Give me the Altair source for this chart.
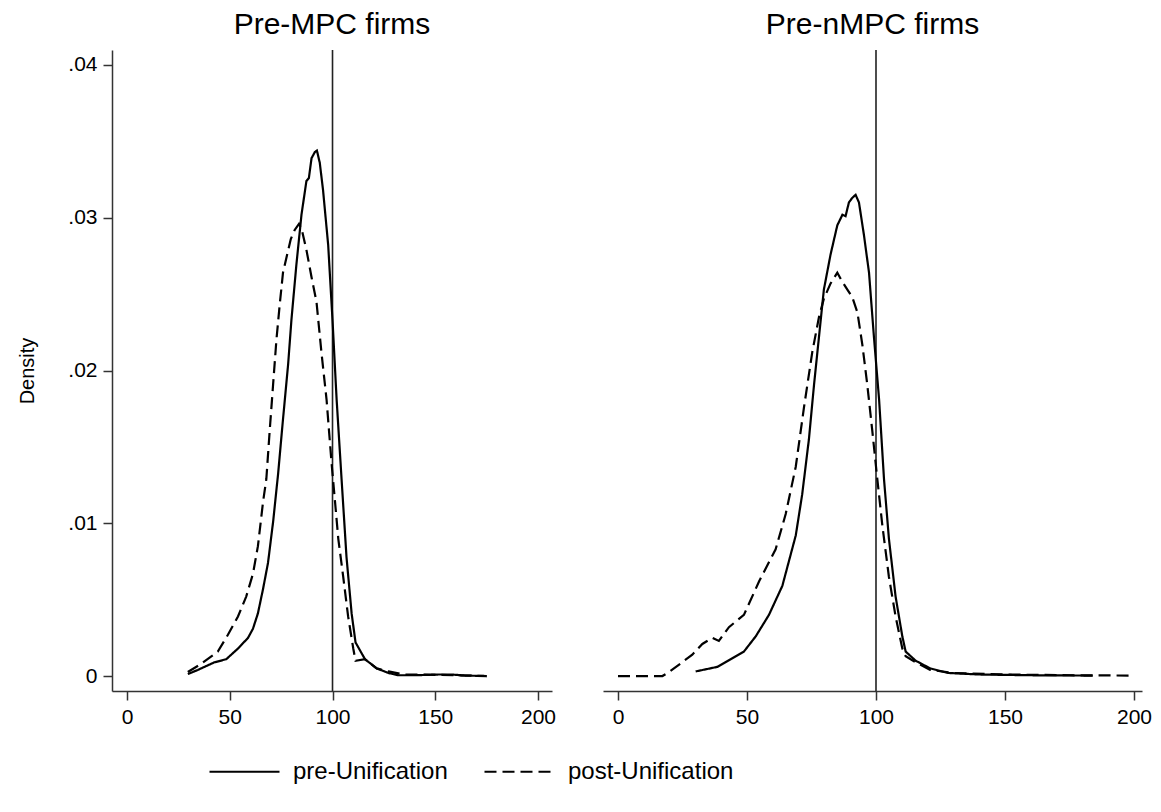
import altair as alt
import pandas as pd

FONT = "Liberation Sans"
SERIES = ["pre-Unification", "post-Unification"]
TITLES = ["Pre-MPC firms", "Pre-nMPC firms"]
X_TICKS = [0, 50, 100, 150, 200]
Y_TICKS = [0, 0.01, 0.02, 0.03, 0.04]
VLINE = [100]

# Left panel (Pre-MPC firms)
left_pre_x = [29.6, 34.5, 42.6, 48.3, 54, 58.9, 61.3, 63.7, 66.2, 68.6, 71.1, 73.5, 75.9, 78.4, 80,
              82.4, 84.9, 87.3, 88.5, 89.8, 91.4, 92.4, 93.8, 95.4, 97.9, 100, 102, 104.4, 106.8,
              109.3, 111.2, 115.8, 121.5, 127.2, 132, 140.2, 151.5, 158, 164.6, 175]
left_pre_y = [0.00013, 0.0004, 0.0009, 0.0011, 0.0018, 0.0025, 0.0031, 0.0041, 0.0057, 0.0074, 0.0101,
              0.0132, 0.0168, 0.0204, 0.0233, 0.0269, 0.0302, 0.0324, 0.0326, 0.0339, 0.0343, 0.0344,
              0.0336, 0.0318, 0.0282, 0.0233, 0.0181, 0.0129, 0.0078, 0.0041, 0.0022, 0.0011, 0.0005,
              0.0002, 0.00005, 0.00005, 0.0001, 0.0001, 0.00003, 0.0]
left_post_x = [29.6, 36.1, 44.2, 49.1, 54, 58, 61.3, 63.7, 66.2, 67.8, 69.4, 71.1, 72.7, 74.3, 75.9,
               77.6, 79.7, 81.6, 83.7, 84.9, 87.3, 89.8, 92.2, 94.6, 97.1, 99.5, 101.1, 102.8, 105.2,
               107.6, 110.1, 111.2, 115.8, 121.5, 127.2, 135, 150, 175]
left_post_y = [0.00026, 0.0008, 0.0016, 0.0027, 0.0039, 0.0052, 0.0067, 0.0085, 0.0114, 0.0129, 0.0160,
               0.0191, 0.0220, 0.0243, 0.0264, 0.0274, 0.0286, 0.0292, 0.0296, 0.0293, 0.0279, 0.0261,
               0.0245, 0.0212, 0.0181, 0.0140, 0.0116, 0.0090, 0.0065, 0.0039, 0.0018, 0.0010, 0.0011,
               0.0005, 0.0003, 0.0001, 0.00008, 0.0]

# Right panel (Pre-nMPC firms)
right_pre_x = [30.1, 38.5, 48.8, 53.4, 58.5, 63.7, 68.9, 71.4, 74, 76, 77.9, 79.8, 82.4, 85, 87, 88.2,
               89.5, 90.8, 92.1, 93.4, 95.3, 97.3, 99.2, 101.2, 103.1, 105, 107.6, 110.2, 111.5, 115.4,
               121, 128, 140, 160, 184]
right_pre_y = [0.0003, 0.0006, 0.0016, 0.0026, 0.0040, 0.0059, 0.0092, 0.0119, 0.0155, 0.0191, 0.0222,
               0.0253, 0.0276, 0.0295, 0.0302, 0.0301, 0.0310, 0.0313, 0.0315, 0.0310, 0.0289, 0.0264,
               0.0222, 0.0181, 0.0129, 0.0090, 0.0052, 0.0026, 0.0016, 0.0010, 0.0005, 0.0002, 0.0001,
               0.00005, 0.00003]
right_post_x = [0, 17.2, 19.8, 28.8, 32.7, 36.6, 39.1, 43, 48.8, 54.7, 61.1, 65, 68.9, 72.1, 75.3, 77.9,
                79.8, 82.4, 85, 87, 88.9, 90.8, 92.8, 94.7, 96.6, 98.6, 100.5, 102.5, 105, 107.6, 110.2,
                111.5, 115.4, 121, 130, 150, 175, 200]
right_post_y = [0.0, 0.0, 0.00026, 0.0014, 0.0021, 0.0025, 0.0023, 0.0032, 0.0040, 0.0062, 0.0083,
                0.0106, 0.0137, 0.0176, 0.0212, 0.0235, 0.0247, 0.0257, 0.0264, 0.0258, 0.0253, 0.0248,
                0.0238, 0.0217, 0.0191, 0.0160, 0.0129, 0.0098, 0.0065, 0.0039, 0.0018, 0.0013, 0.0009,
                0.0004, 0.0002, 0.0001, 0.00005, 0.00003]


def series_df(xs, ys, name):
    return pd.DataFrame({"x": xs, "y": ys, "series": name, "ord": list(range(len(xs)))})


left_df = pd.concat([series_df(left_pre_x, left_pre_y, SERIES[0]),
                     series_df(left_post_x, left_post_y, SERIES[1])])
right_df = pd.concat([series_df(right_pre_x, right_pre_y, SERIES[0]),
                      series_df(right_post_x, right_post_y, SERIES[1])])

Y_DOMAIN = [-0.00098, 0.04098]
HEIGHT = 641

legend = alt.Legend(
    orient="none", legendX=96, legendY=685, direction="horizontal", title=None,
    symbolType="stroke", symbolSize=4900, symbolStrokeWidth=2.2, symbolStrokeColor="black",
    labelFont=FONT, labelFontSize=24, labelColor="black", labelOffset=12, labelLimit=0,
    columnPadding=32, symbolLimit=0,
)


def panel(df, title, xdom, width, show_y):
    xenc = alt.X("x:Q", scale=alt.Scale(domain=xdom, nice=False, zero=False),
                 axis=alt.Axis(values=X_TICKS, title=None, format="d"))
    if show_y:
        yaxis = alt.Axis(values=Y_TICKS, title="Density",
                         labelExpr="datum.value == 0 ? '0' : replace(format(datum.value, '.2f'), '0.', '.')")
    else:
        yaxis = None
    yenc = alt.Y("y:Q", scale=alt.Scale(domain=Y_DOMAIN, nice=False, zero=False), axis=yaxis)
    lines = alt.Chart(df).mark_line(color="black", strokeWidth=2.2).encode(
        x=xenc, y=yenc,
        strokeDash=alt.StrokeDash("series:N",
                                  scale=alt.Scale(domain=SERIES, range=[[1, 0], [12, 6]]),
                                  legend=legend),
        order="ord:Q",
    )
    vline = alt.Chart(pd.DataFrame({"x": VLINE})).mark_rule(color="#222222", strokeWidth=1.6).encode(x=xenc)
    return alt.layer(vline, lines).properties(
        width=width, height=HEIGHT,
        title=alt.TitleParams(title, font=FONT, fontSize=30, fontWeight="normal", color="black",
                              anchor="middle", offset=9),
    )


left = panel(left_df, TITLES[0], [-7.3, 206.8], 440, True)
right = panel(right_df, TITLES[1], [-5.81, 203.1], 539, False)

chart = alt.hconcat(left, right, spacing=47).properties(
    padding={"left": 9, "top": 2, "right": 0, "bottom": 5},
    background="white",
).configure_view(stroke=None).configure_axis(
    grid=False, domainColor="#333333", domainWidth=1.5, tickColor="#333333", tickWidth=1.5,
    tickSize=9, labelFont=FONT, labelFontSize=21, labelColor="black", labelPadding=6,
    titleFont=FONT, titleFontSize=20, titleFontWeight="normal", titleColor="black", titlePadding=30,
)

chart.save("out.html", embed_options={"renderer": "svg", "actions": False})
